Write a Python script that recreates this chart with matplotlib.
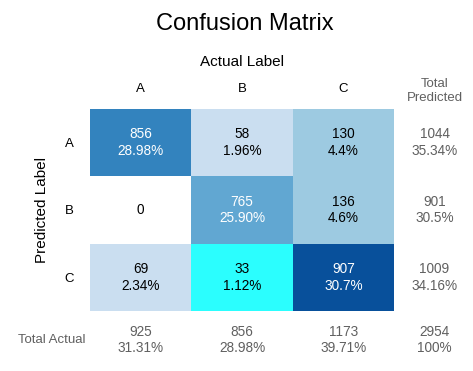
import numpy as np
import matplotlib
matplotlib.use("Agg")
import matplotlib.pyplot as plt
from matplotlib.colors import ListedColormap, BoundaryNorm

plt.rcParams['font.family'] = ['Liberation Sans', 'DejaVu Sans']

# ---- data ----
labels = ["A", "B", "C"]
counts = [[856, 58, 130],
          [0, 765, 136],
          [69, 33, 907]]
cell_pct = [["28.98%", "1.96%", "4.4%"],
            ["", "25.90%", "4.6%"],
            ["2.34%", "1.12%", "30.7%"]]
total_pred = [1044, 901, 1009]
total_pred_pct = ["35.34%", "30.5%", "34.16%"]
total_actual = [925, 856, 1173]
total_actual_pct = ["31.31%", "28.98%", "39.71%"]
grand_total = 2954
grand_total_pct = "100%"

# colour bins (style)
bounds = [50, 100, 500, 800, 880, 1000]
blues = plt.get_cmap("Blues")
cmap = ListedColormap([blues(p) for p in (0.23, 0.375, 0.53, 0.68, 0.875)])
cmap.set_under("#2bfefe")
cmap.set_bad("white")
norm = BoundaryNorm(bounds, cmap.N)

W, H = 473, 371
fig = plt.figure(figsize=(W / 100, H / 100), dpi=100)
ax = fig.add_axes([90 / W, 1 - 311 / H, 304 / W, 202 / H])

data = np.ma.masked_equal(np.array(counts, dtype=float), 0)
ax.pcolormesh(np.arange(4), np.arange(4), data, cmap=cmap, norm=norm)
ax.set_xlim(0, 3)
ax.set_ylim(3, 0)
for s in ax.spines.values():
    s.set_visible(False)

ax.set_xticks(np.arange(3) + 0.5)
ax.set_xticklabels(labels, fontsize=9.5)
ax.set_yticks(np.arange(3) + 0.5)
ax.set_yticklabels(labels, fontsize=9.5)
ax.xaxis.tick_top()
ax.tick_params(axis="x", length=0, pad=10)
ax.tick_params(axis="y", length=0, pad=11.5)
ax.xaxis.set_label_position("top")
ax.set_xlabel("Actual Label", fontsize=11, labelpad=12)
ax.set_ylabel("Predicted Label", fontsize=11, labelpad=11)

dark = {(0, 0), (1, 1), (2, 2)}
for i in range(3):
    for j in range(3):
        v = counts[i][j]
        txt = f"{v}\n{cell_pct[i][j]}" if cell_pct[i][j] else f"{v}"
        col = "white" if (i, j) in dark else "black"
        ax.text(j + 0.5, i + 0.5, txt, ha="center", va="center",
                fontsize=9.8, color=col, linespacing=1.25)

gray = "#606060"
for i in range(3):
    ax.text(3.4, i + 0.5, f"{total_pred[i]}\n{total_pred_pct[i]}", ha="center",
            va="center", fontsize=9.8, color=gray, linespacing=1.25, clip_on=False)
for j in range(3):
    ax.text(j + 0.5, 3.43, f"{total_actual[j]}\n{total_actual_pct[j]}", ha="center",
            va="center", fontsize=9.8, color=gray, linespacing=1.25, clip_on=False)
ax.text(3.4, 3.43, f"{grand_total}\n{grand_total_pct}", ha="center", va="center",
        fontsize=9.8, color=gray, linespacing=1.25, clip_on=False)
ax.text(3.4, -0.27, "Total\nPredicted", ha="center", va="center",
        fontsize=9.5, color=gray, linespacing=1.25, clip_on=False)
ax.text(-0.375, 3.43, "Total Actual", ha="center", va="center",
        fontsize=9.5, color=gray, clip_on=False)

fig.text(245 / W, 1 - 24 / H, "Confusion Matrix", ha="center", va="center", fontsize=17)

fig.savefig("out.png", dpi=100)
